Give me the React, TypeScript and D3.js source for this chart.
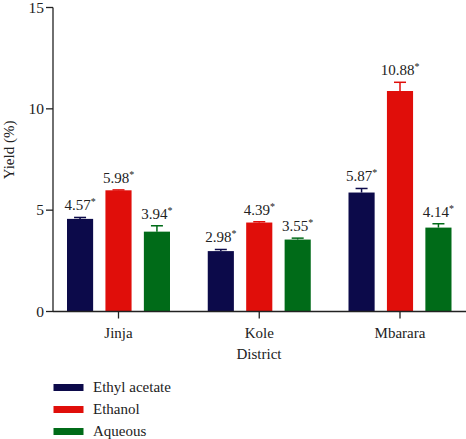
import React from "react";
import * as d3 from "d3";

const districts = ["Jinja", "Kole", "Mbarara"];
const seriesNames = ["Ethyl acetate", "Ethanol", "Aqueous"];
const ethylAcetate = [4.57, 2.98, 5.87];
const ethanol = [5.98, 4.39, 10.88];
const aqueous = [3.94, 3.55, 4.14];
const ethylAcetateErr = [0.07, 0.08, 0.2];
const ethanolErr = [0.02, 0.04, 0.43];
const aqueousErr = [0.29, 0.07, 0.19];
const yTicks = [0, 5, 10, 15];
const colors = ["#0c0a4a", "#e00e0a", "#006b18"];

const values = [ethylAcetate, ethanol, aqueous];
const errs = [ethylAcetateErr, ethanolErr, aqueousErr];

const FONT = '"Liberation Serif"';

export default function App() {
  const x0 = 53;
  const xEnd = 466;
  const y = d3.scaleLinear().domain([0, 15]).range([311.5, 7.5]);
  const xc = d3.scalePoint<string>().domain(districts).range([118.5, 400]);
  const xs = d3
    .scaleBand<string>()
    .domain(seriesNames)
    .range([-51.5, 51.5])
    .paddingInner(0.32)
    .paddingOuter(0);
  const bw = xs.bandwidth();
  const ts = { fontFamily: FONT };

  return (
    <svg
      width={466}
      height={439}
      style={{ position: "absolute", left: 0, top: 0, background: "#fff", fontFamily: FONT }}
    >
      {/* bars */}
      {districts.map((d, i) =>
        seriesNames.map((s, j) => {
          const v = values[j][i];
          const e = errs[j][i];
          const cx = (xc(d) as number) + (xs(s) as number) + bw / 2;
          const left = (xc(d) as number) + (xs(s) as number);
          const top = y(v);
          const capY = y(v + e);
          return (
            <g key={d + s}>
              <line x1={cx} x2={cx} y1={top} y2={capY} stroke={colors[j]} strokeWidth={1.5} />
              <line x1={cx - 6} x2={cx + 6} y1={capY} y2={capY} stroke={colors[j]} strokeWidth={1.5} />
              <rect x={left} y={top} width={bw} height={y(0) - top} fill={colors[j]} />
              <text x={cx} y={capY - 7} textAnchor="middle" fontSize={15} fill="#222" style={ts}>
                {v.toFixed(2)}
                <tspan fontSize={10} dy={-5}>*</tspan>
              </text>
            </g>
          );
        })
      )}

      {/* y axis */}
      <line x1={x0} x2={x0} y1={y(15)} y2={y(0)} stroke="#222" strokeWidth={1.3} />
      {yTicks.map((t) => (
        <g key={t}>
          <line x1={x0 - 7} x2={x0} y1={y(t)} y2={y(t)} stroke="#222" strokeWidth={1.3} />
          <text x={x0 - 9} y={y(t) + 5} textAnchor="end" fontSize={15.5} fill="#222" style={ts}>
            {t}
          </text>
        </g>
      ))}
      <text
        transform={`translate(14,${150}) rotate(-90)`}
        textAnchor="middle"
        fontSize={15}
        fill="#222"
        style={ts}
      >
        Yield (%)
      </text>

      {/* x axis */}
      <line x1={x0} x2={xEnd} y1={y(0)} y2={y(0)} stroke="#222" strokeWidth={1.3} />
      {districts.map((d) => (
        <g key={d}>
          <line x1={xc(d)} x2={xc(d)} y1={y(0)} y2={y(0) + 7} stroke="#222" strokeWidth={1.3} />
          <text x={xc(d)} y={338} textAnchor="middle" fontSize={15} fill="#222" style={ts}>
            {d}
          </text>
        </g>
      ))}
      <text x={259} y={359} textAnchor="middle" fontSize={15} fill="#222" style={ts}>
        District
      </text>

      {/* legend */}
      {seriesNames.map((s, j) => (
        <g key={s} transform={`translate(0,${384 + j * 22})`}>
          <rect x={53.5} y={0} width={30} height={7} fill={colors[j]} />
          <text x={93} y={8} fontSize={15} fill="#222" style={ts}>
            {s}
          </text>
        </g>
      ))}
    </svg>
  );
}
